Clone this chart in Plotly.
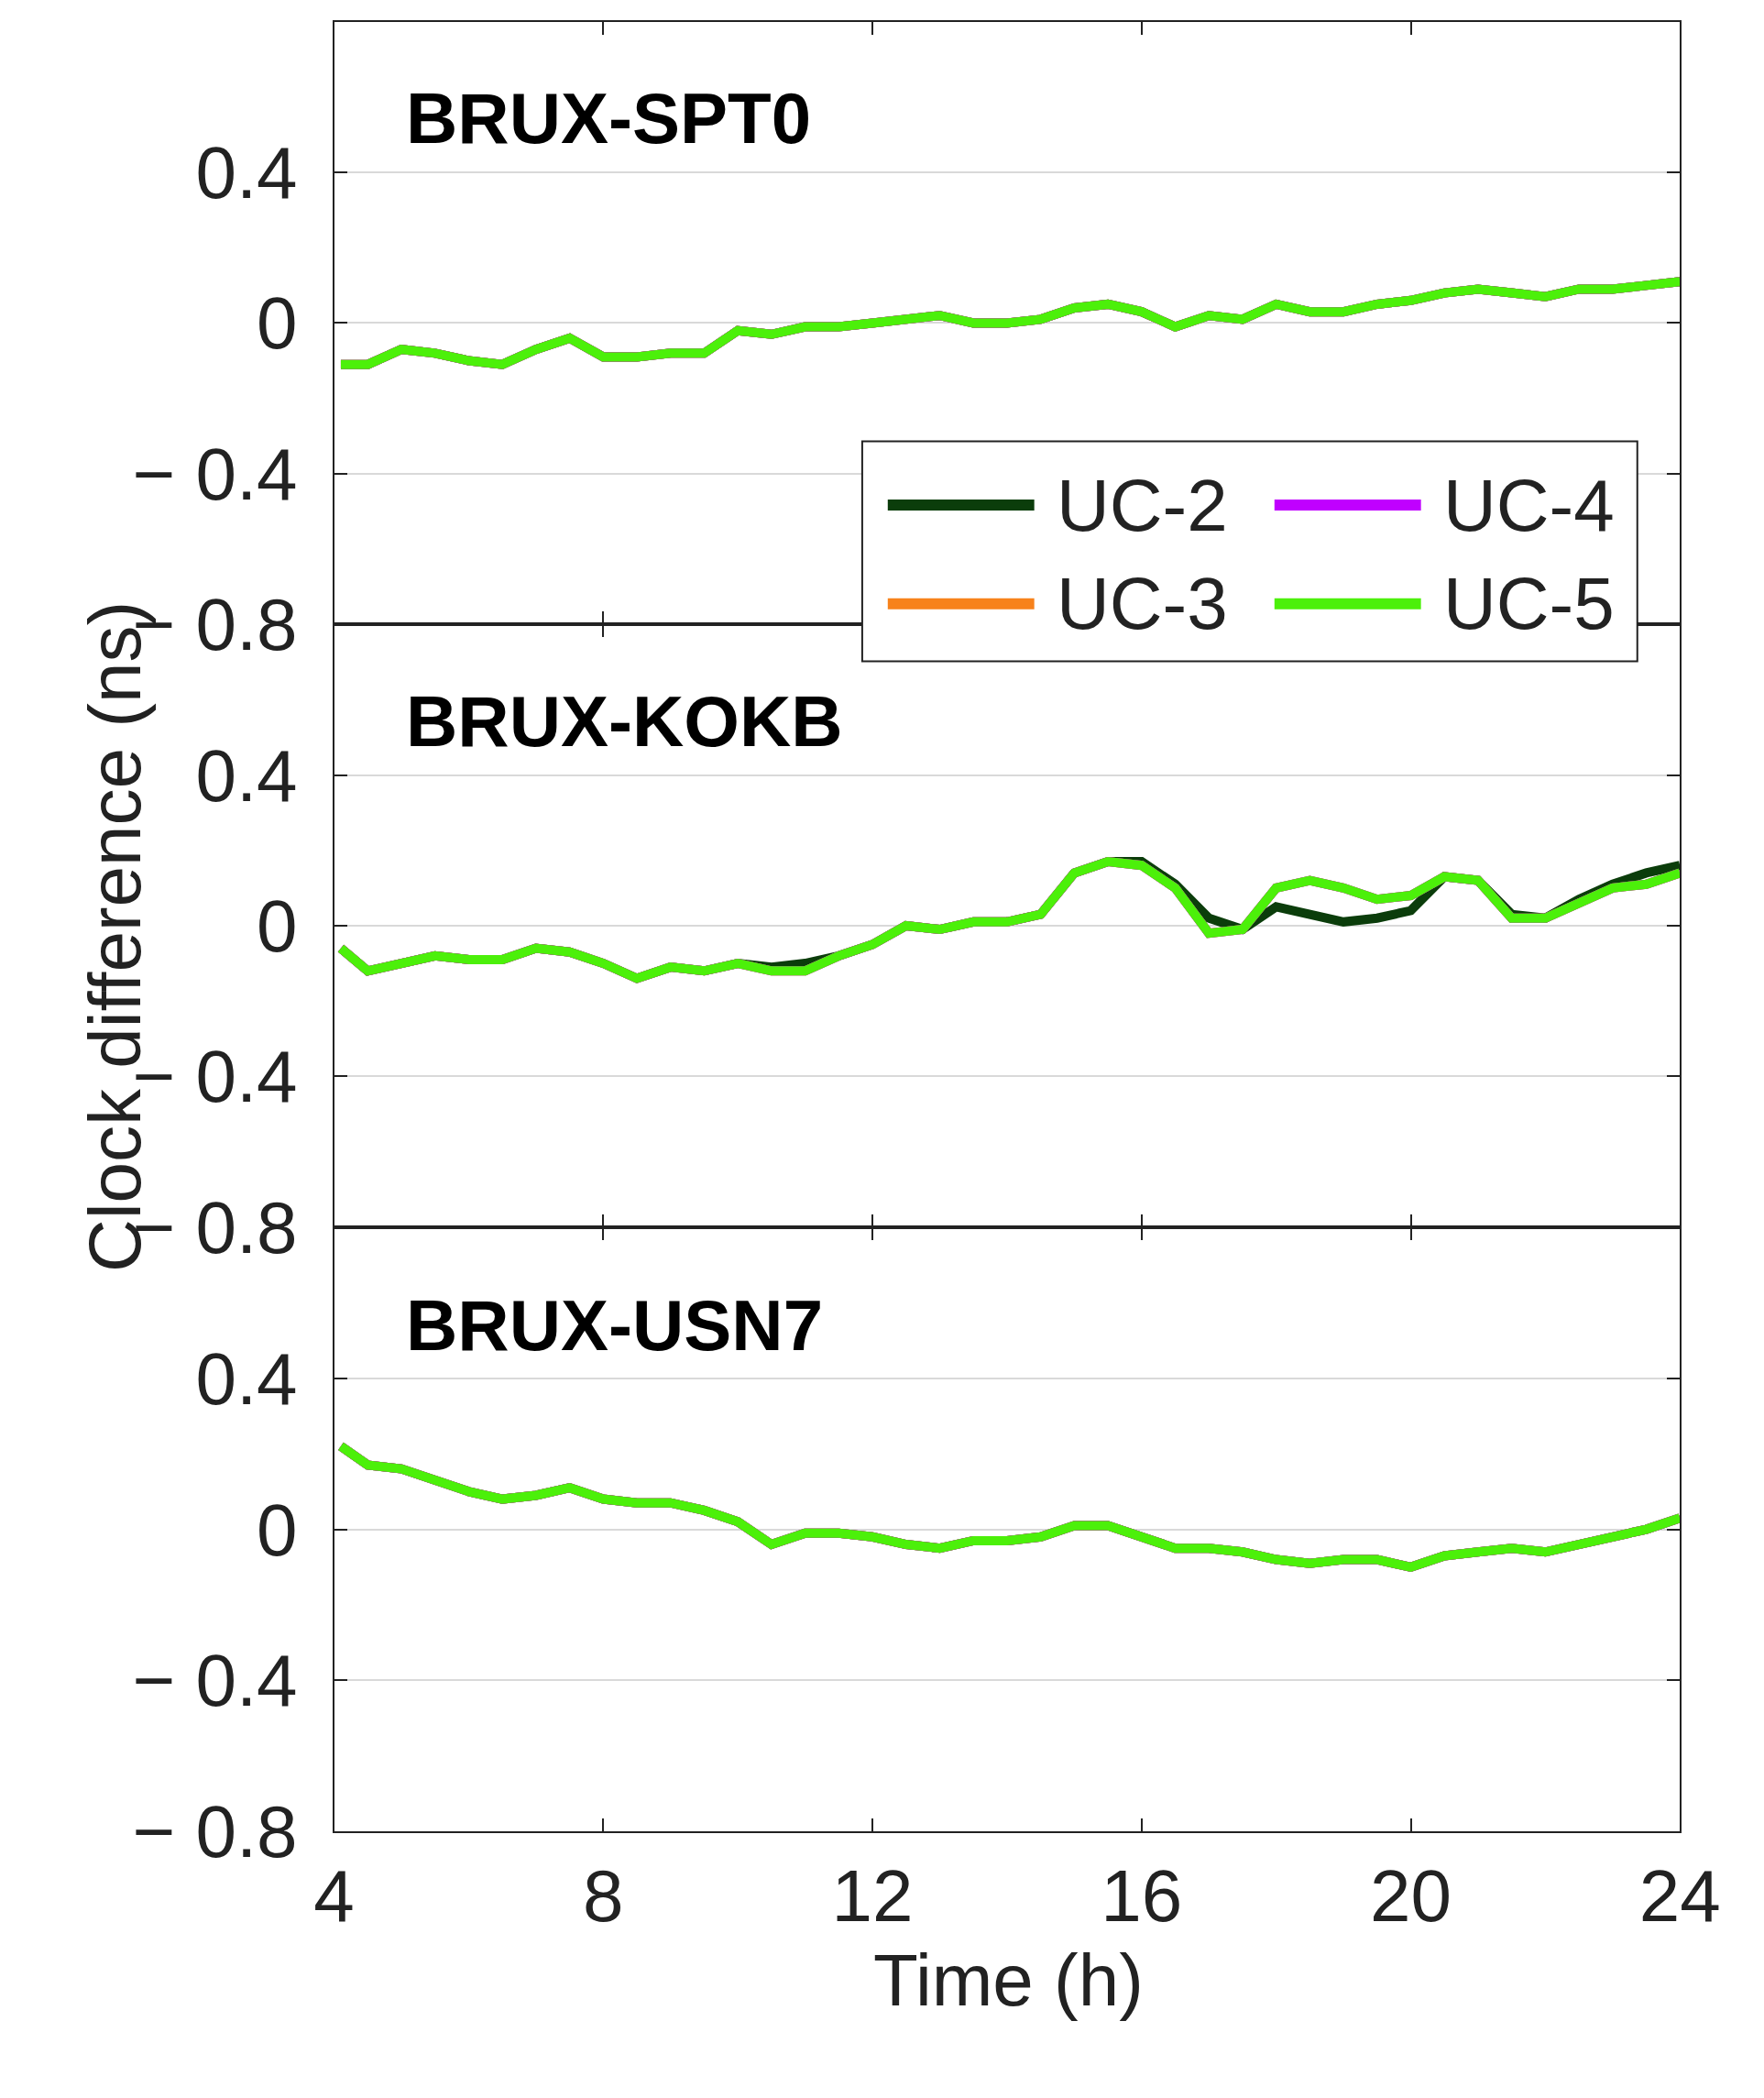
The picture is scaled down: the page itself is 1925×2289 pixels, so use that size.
import plotly.graph_objects as go

# time axis (hours)
time_h = [4.1] + [4.5 + 0.5 * i for i in range(40)]

panels = ["BRUX-SPT0", "BRUX-KOKB", "BRUX-USN7"]
series = ["UC-2", "UC-3", "UC-4", "UC-5"]
colors = ["#0b3d0b", "#f7821b", "#c000ff", "#4cf00a"]

# BRUX-SPT0 (all solutions overlap)
spt0 = [-0.11, -0.11, -0.07, -0.08, -0.10, -0.11, -0.07, -0.04, -0.09, -0.09,
        -0.08, -0.08, -0.02, -0.03, -0.01, -0.01, 0.00, 0.01, 0.02, 0.00,
        0.00, 0.01, 0.04, 0.05, 0.03, -0.01, 0.02, 0.01, 0.05, 0.03,
        0.03, 0.05, 0.06, 0.08, 0.09, 0.08, 0.07, 0.09, 0.09, 0.10, 0.11]
# BRUX-KOKB
kokb = [-0.06, -0.12, -0.10, -0.08, -0.09, -0.09, -0.06, -0.07, -0.10, -0.14,
        -0.11, -0.12, -0.10, -0.12, -0.12, -0.08, -0.05, 0.00, -0.01, 0.01,
        0.01, 0.03, 0.14, 0.17, 0.16, 0.10, -0.02, -0.01, 0.10, 0.12,
        0.10, 0.07, 0.08, 0.13, 0.12, 0.02, 0.02, 0.06, 0.10, 0.11, 0.14]
kokb_uc2 = [-0.06, -0.12, -0.10, -0.08, -0.09, -0.09, -0.06, -0.07, -0.10, -0.14,
            -0.11, -0.12, -0.10, -0.11, -0.10, -0.08, -0.05, 0.00, -0.01, 0.01,
            0.01, 0.03, 0.14, 0.17, 0.17, 0.11, 0.02, -0.01, 0.05, 0.03,
            0.01, 0.02, 0.04, 0.13, 0.12, 0.03, 0.02, 0.07, 0.11, 0.14, 0.16]
# BRUX-USN7
usn7 = [0.22, 0.17, 0.16, 0.13, 0.10, 0.08, 0.09, 0.11, 0.08, 0.07,
        0.07, 0.05, 0.02, -0.04, -0.01, -0.01, -0.02, -0.04, -0.05, -0.03,
        -0.03, -0.02, 0.01, 0.01, -0.02, -0.05, -0.05, -0.06, -0.08, -0.09,
        -0.08, -0.08, -0.10, -0.07, -0.06, -0.05, -0.06, -0.04, -0.02, 0.00, 0.03]

data = [
    [spt0, spt0, spt0, spt0],
    [kokb_uc2, kokb, kokb, kokb],
    [usn7, usn7, usn7, usn7],
]

FONT = "Liberation Sans, Arial, sans-serif"
fig = go.Figure()

domains = [(0.700, 0.993), (0.407, 0.700), (0.113, 0.407)]
for p in range(3):
    sfx = "" if p == 0 else str(p + 1)
    for s in range(4):
        fig.add_trace(go.Scatter(x=time_h, y=data[p][s], mode="lines", name=series[s],
                                 line=dict(color=colors[s], width=10),
                                 xaxis="x" + sfx, yaxis="y" + sfx, showlegend=False))
    tv = [-0.8, -0.4, 0, 0.4, 0.8] if p == 0 else [-0.8, -0.4, 0, 0.4]
    tt = ["\u2212 0.8", "\u2212 0.4", "0", "0.4", "0.8"][:len(tv)]
    fig.layout["xaxis" + sfx] = dict(
        domain=[0.180, 0.970], range=[4, 24], anchor="y" + sfx,
        tickvals=[4, 8, 12, 16, 20, 24], showticklabels=(p == 2),
        ticks="inside", ticklen=14, tickwidth=2, tickcolor="#222",
        showline=True, linecolor="#222", linewidth=2, mirror="ticks",
        showgrid=False, zeroline=False,
        tickfont=dict(size=80, color="#222", family=FONT))
    fig.layout["yaxis" + sfx] = dict(
        domain=list(domains[p]), range=[-0.8, 0.8], anchor="x" + sfx,
        tickvals=tv, ticktext=tt, ticklabelstandoff=22,
        ticks="inside", ticklen=14, tickwidth=2, tickcolor="#222",
        showline=True, linecolor="#222", linewidth=2, mirror="ticks",
        showgrid=True, gridcolor="#d9d9d9", gridwidth=2, zeroline=False,
        tickfont=dict(size=80, color="#222", family=FONT))

annotations = []
for p, ty in enumerate([0.946, 0.653, 0.359]):
    annotations.append(dict(text="<b>%s</b>" % panels[p], x=0.221, y=ty, xref="paper", yref="paper",
                            xanchor="left", yanchor="middle", showarrow=False,
                            font=dict(size=78, color="#000", family=FONT)))
annotations.append(dict(text="Clock difference (ns)", x=0.026, y=0.548, xref="paper", yref="paper",
                        textangle=-90, showarrow=False, font=dict(size=80, color="#222", family=FONT)))
annotations.append(dict(text="Time (h)", x=0.576, y=0.020, xref="paper", yref="paper",
                        showarrow=False, font=dict(size=80, color="#222", family=FONT)))

# manual legend (two columns: UC-2/UC-3 left, UC-4/UC-5 right)
shapes = [dict(type="rect", xref="paper", yref="paper", x0=0.490, x1=0.945, y0=0.682, y1=0.789,
               line=dict(color="#222", width=2), fillcolor="white")]
leg_pos = [(0.505, 0.758), (0.505, 0.710), (0.732, 0.758), (0.732, 0.710)]
for s in range(4):
    lx, ly = leg_pos[s]
    shapes.append(dict(type="line", xref="paper", yref="paper", x0=lx, x1=lx + 0.086, y0=ly, y1=ly,
                       line=dict(color=colors[s], width=12)))
    annotations.append(dict(text=series[s], x=lx + 0.098, y=ly, xref="paper", yref="paper",
                            xanchor="left", yanchor="middle", showarrow=False,
                            font=dict(size=80, color="#222", family=FONT)))

fig.update_layout(width=1925, height=2289, margin=dict(l=0, r=0, t=0, b=0),
                  plot_bgcolor="white", paper_bgcolor="white",
                  annotations=annotations, shapes=shapes, showlegend=False)

fig.write_html("out.html")
